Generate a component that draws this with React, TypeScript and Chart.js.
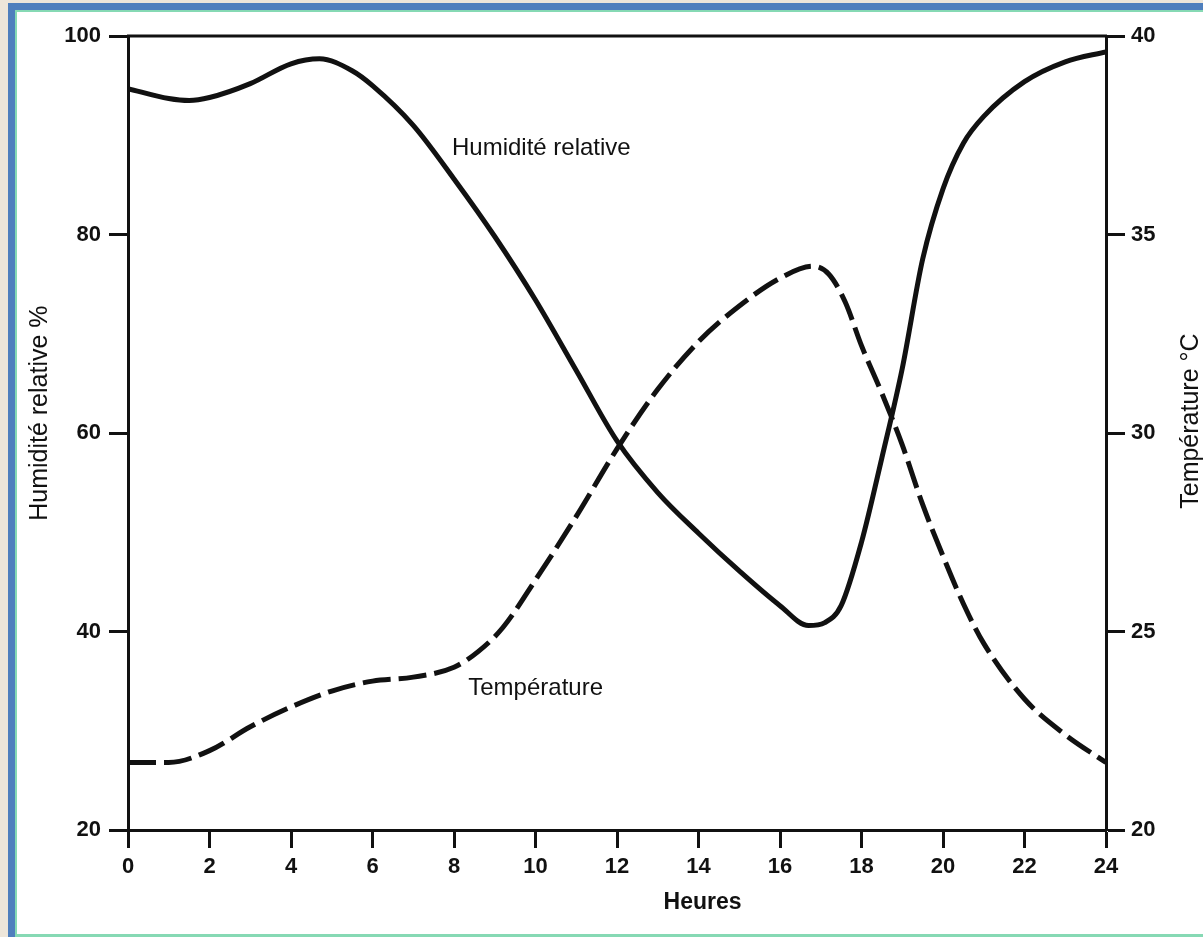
import React, { useEffect, useRef } from "react";
import { Chart, registerables } from "chart.js";

Chart.register(...registerables);

// Hours of day (x) and relative humidity % (left axis)
const humidityHours = [0, 1, 1.5, 2, 3, 4, 4.7, 5.5, 6, 7, 8, 9, 10, 11, 12, 13, 14, 15, 16, 16.7, 17.1, 17.5, 18, 18.5, 19, 19.5, 20, 20.5, 21, 22, 23, 24];
const humidityValues = [94.7, 93.7, 93.5, 93.8, 95.2, 97.2, 97.7, 96.5, 95.0, 91.0, 85.6, 79.8, 73.4, 66.3, 59.2, 54.0, 49.9, 46.1, 42.6, 40.6, 40.9, 42.6, 49.0, 57.5, 66.5, 77.5, 84.6, 89.2, 91.9, 95.4, 97.4, 98.4];

// Hours of day (x) and temperature °C (right axis)
const temperatureHours = [0, 1, 2, 3, 4, 5, 6, 7, 8, 8.6, 9.2, 10, 11, 12, 13, 14, 15, 16, 16.8, 17.2, 17.6, 18, 18.5, 19, 19.5, 20, 20.5, 21, 22, 23, 24];
const temperatureValues = [21.7, 21.7, 22.0, 22.6, 23.1, 23.5, 23.75, 23.85, 24.1, 24.5, 25.1, 26.3, 27.9, 29.6, 31.1, 32.3, 33.2, 33.9, 34.2, 34.0, 33.3, 32.2, 31.0, 29.7, 28.2, 26.9, 25.7, 24.7, 23.3, 22.4, 21.7];

const hourTicks = [0, 2, 4, 6, 8, 10, 12, 14, 16, 18, 20, 22, 24];
const humidityTicks = [20, 40, 60, 80, 100];
const temperatureTicks = [20, 25, 30, 35, 40];

const humidityLabel = "Humidité relative";
const temperatureLabel = "Température";
const xTitle = "Heures";
const leftTitle = "Humidité relative %";
const rightTitle = "Température °C";

const INK = "#111111";
const FAMILY = "'Liberation Sans', Arial, sans-serif";

export default function App() {
  const canvasRef = useRef<HTMLCanvasElement | null>(null);

  useEffect(() => {
    const canvas = canvasRef.current;
    if (!canvas) return;

    const tickFont = { family: FAMILY, size: 22, weight: "bold" as const };

    const textPlugin = {
      id: "textPlugin",
      afterDraw(chart: any) {
        const { ctx, chartArea, scales } = chart;
        ctx.save();
        // top frame line
        ctx.strokeStyle = INK;
        ctx.lineWidth = 3;
        ctx.beginPath();
        ctx.moveTo(chartArea.left - 1, chartArea.top);
        ctx.lineTo(chartArea.right + 1, chartArea.top);
        ctx.stroke();

        ctx.fillStyle = INK;
        ctx.textBaseline = "middle";
        ctx.textAlign = "left";
        ctx.font = `24px ${FAMILY}`;
        ctx.fillText(humidityLabel, scales.x.getPixelForValue(7.95), scales.y.getPixelForValue(88.7));
        ctx.fillText(temperatureLabel, scales.x.getPixelForValue(8.35), scales.y.getPixelForValue(34.3));

        ctx.textAlign = "center";
        ctx.font = `bold 23px ${FAMILY}`;
        ctx.fillText(xTitle, scales.x.getPixelForValue(14.1), chartArea.bottom + 73);

        // vertical axis titles (both read bottom to top)
        ctx.font = `25px ${FAMILY}`;
        ctx.save();
        ctx.translate(chartArea.left - 88, scales.y.getPixelForValue(62));
        ctx.rotate(-Math.PI / 2);
        ctx.fillText(leftTitle, 0, 0);
        ctx.restore();

        ctx.save();
        ctx.translate(chartArea.right + 85, scales.y2.getPixelForValue(30.3));
        ctx.rotate(-Math.PI / 2);
        ctx.fillText(rightTitle, 0, 0);
        ctx.restore();

        ctx.restore();
      },
    };

    const axisCommon = {
      grid: {
        display: true,
        drawOnChartArea: false,
        drawTicks: true,
        tickLength: 19,
        tickWidth: 3,
        tickColor: INK,
      },
      border: { display: true, width: 3, color: INK },
    };

    const chart = new Chart(canvas, {
      type: "line",
      data: {
        datasets: [
          {
            label: humidityLabel,
            data: humidityHours.map((h, i) => ({ x: h, y: humidityValues[i] })),
            yAxisID: "y",
            borderColor: INK,
            borderWidth: 5,
            pointRadius: 0,
            cubicInterpolationMode: "monotone",
            fill: false,
          },
          {
            label: temperatureLabel,
            data: temperatureHours.map((h, i) => ({ x: h, y: temperatureValues[i] })),
            yAxisID: "y2",
            borderColor: INK,
            borderWidth: 5,
            borderDash: [28, 8],
            pointRadius: 0,
            cubicInterpolationMode: "monotone",
            fill: false,
          },
        ],
      },
      options: {
        animation: false,
        responsive: false,
        devicePixelRatio: 1,
        layout: { padding: { top: 36, left: 20, right: 0, bottom: 0 } },
        plugins: {
          legend: { display: false },
          tooltip: { enabled: false },
          title: { display: false },
        },
        scales: {
          x: {
            type: "linear",
            position: "bottom",
            min: 0,
            max: 24,
            ...axisCommon,
            grid: { ...axisCommon.grid, tickLength: 18 },
            ticks: { color: INK, font: tickFont, padding: 6, maxRotation: 0, autoSkip: false },
            afterBuildTicks: (scale: any) => {
              scale.ticks = hourTicks.map((v) => ({ value: v }));
            },
            afterFit: (scale: any) => {
              scale.height = 107;
            },
          },
          y: {
            type: "linear",
            position: "left",
            min: 20,
            max: 100,
            ...axisCommon,
            ticks: { color: INK, font: tickFont, padding: 8 },
            afterBuildTicks: (scale: any) => {
              scale.ticks = humidityTicks.map((v) => ({ value: v }));
            },
            afterFit: (scale: any) => {
              scale.width = 108;
            },
          },
          y2: {
            type: "linear",
            position: "right",
            min: 20,
            max: 40,
            ...axisCommon,
            ticks: { color: INK, font: tickFont, padding: 6 },
            afterBuildTicks: (scale: any) => {
              scale.ticks = temperatureTicks.map((v) => ({ value: v }));
            },
            afterFit: (scale: any) => {
              scale.width = 97;
            },
          },
        },
      },
      plugins: [textPlugin],
    } as any);

    return () => {
      chart.destroy();
    };
  }, []);

  return (
    <div style={{ position: "fixed", left: 0, top: 0, width: 1203, height: 937, background: "#ede6da", overflow: "hidden" }}>
      <div style={{ position: "absolute", left: 8, top: 3, width: 1300, height: 1000, background: "#4f7fbd" }} />
      <div
        style={{
          position: "absolute",
          left: 15,
          top: 10,
          width: 1300,
          height: 922,
          background: "#ffffff",
          borderLeft: "2px solid #86d9b4",
          borderTop: "2px solid #86d9b4",
          borderBottom: "3px solid #86d9b4",
        }}
      />
      <canvas
        ref={canvasRef}
        width={1203}
        height={937}
        style={{ position: "absolute", left: 0, top: 0, width: 1203, height: 937, display: "block" }}
      />
    </div>
  );
}
